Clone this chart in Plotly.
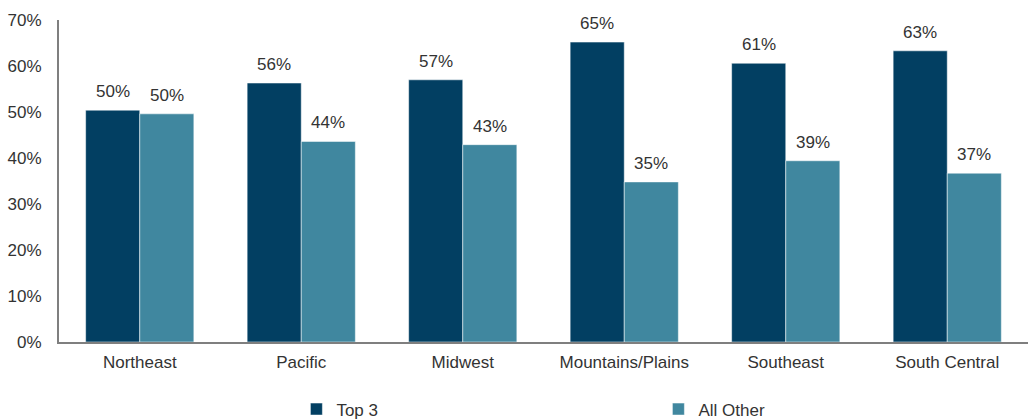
import plotly.graph_objects as go

regions = ["Northeast", "Pacific", "Midwest", "Mountains/Plains", "Southeast", "South Central"]
top3 = [50.4, 56.3, 57.0, 65.2, 60.6, 63.3]
all_other = [49.6, 43.6, 42.9, 34.8, 39.4, 36.7]
y_ticks = [0, 10, 20, 30, 40, 50, 60, 70]
y_tick_labels = [f"{v}%" for v in y_ticks]

FONT = "Liberation Sans, Arial, sans-serif"
TEXT = "#333333"
SIZE = 17

fig = go.Figure()
fig.add_trace(go.Bar(
    x=regions, y=top3, name="Top 3",
    marker=dict(color="#023F62", line=dict(color="rgba(255,255,255,0.5)", width=1)),
))
fig.add_trace(go.Bar(
    x=regions, y=all_other, name="All Other",
    marker=dict(color="#40879F", line=dict(color="rgba(255,255,255,0.5)", width=1)),
))

# value labels above each bar, shifted to sit over its half of the group
for series, shift in ((top3, -27), (all_other, 27)):
    for region, val in zip(regions, series):
        fig.add_annotation(
            x=region, y=val, xref="x", yref="y",
            text=f"{val:.0f}%", showarrow=False,
            xshift=shift, yshift=7, yanchor="bottom",
            font=dict(size=SIZE, color=TEXT, family=FONT),
        )

fig.update_layout(
    width=1028, height=420,
    margin=dict(l=59, r=0, t=20, b=78),
    paper_bgcolor="white", plot_bgcolor="white",
    font=dict(family=FONT, size=SIZE, color=TEXT),
    barmode="group", bargap=0.33, bargroupgap=0,
    showlegend=True,
    legend=dict(
        orientation="h", xref="paper", yref="container",
        x=0.245, y=0.025, xanchor="left", yanchor="middle",
        entrywidth=317, font=dict(size=SIZE, color=TEXT, family=FONT),
        itemclick=False, traceorder="normal",
    ),
    xaxis=dict(
        showline=True, linecolor="#7F7F7F", linewidth=2,
        showgrid=False, ticks="", tickfont=dict(size=SIZE),
        ticklabelstandoff=4,
    ),
    yaxis=dict(
        range=[0, 70], tickvals=y_ticks, ticktext=y_tick_labels,
        showline=True, linecolor="#7F7F7F", linewidth=2,
        showgrid=False, zeroline=False, ticks="", ticklabelstandoff=12,
        tickfont=dict(size=SIZE),
    ),
)

fig.write_html("out.html")
